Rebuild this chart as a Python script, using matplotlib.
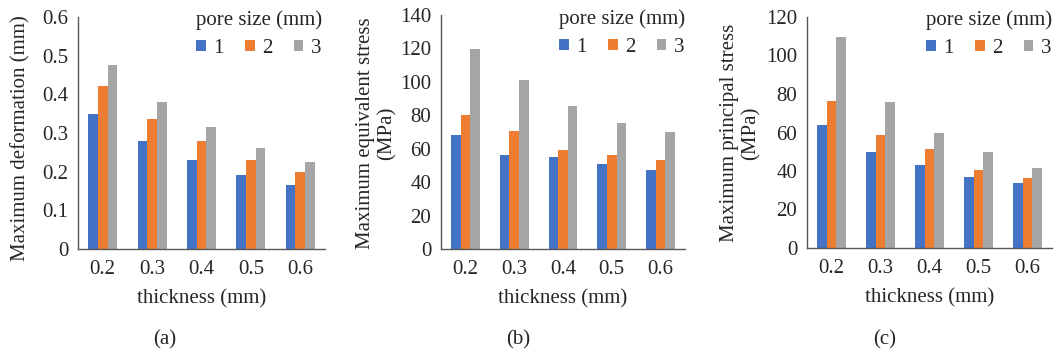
import matplotlib
matplotlib.use("Agg")
import matplotlib.pyplot as plt
import numpy as np

plt.rcParams.update({
    "font.family": ["Liberation Serif", "DejaVu Serif"],
    "font.size": 15,
    "text.color": "#262626",
    "axes.labelcolor": "#262626",
    "xtick.color": "#262626",
    "ytick.color": "#262626",
})

THICKNESS = ["0.2", "0.3", "0.4", "0.5", "0.6"]
PORE_SIZES = ["1", "2", "3"]
COLORS = ["#4472C4", "#ED7D31", "#A5A5A5"]

# (a) maximum deformation (mm)
DEFORM_1 = [0.35, 0.28, 0.23, 0.192, 0.166]
DEFORM_2 = [0.421, 0.336, 0.279, 0.23, 0.199]
DEFORM_3 = [0.475, 0.38, 0.316, 0.261, 0.225]

# (b) maximum equivalent stress (MPa)
EQUIV_1 = [68.3, 56.4, 55.2, 51.0, 47.4]
EQUIV_2 = [80.3, 70.7, 59.4, 56.4, 53.4]
EQUIV_3 = [119.7, 101.2, 85.7, 75.5, 70.1]

# (c) maximum principal stress (MPa)
PRINC_1 = [64.1, 50.0, 43.3, 37.1, 33.9]
PRINC_2 = [76.5, 58.9, 51.6, 40.7, 36.5]
PRINC_3 = [109.8, 76.0, 59.9, 50.0, 41.7]

W, H = 1054, 357
fig = plt.figure(figsize=(W / 100, H / 100), dpi=100)


def px_axes(left, right, top, bottom):
    return fig.add_axes([left / W, (H - bottom) / H, (right - left) / W, (bottom - top) / H])


panels = [
    # box (l, r, t, b), series, ymax, step, ylabel, ylabel centre px (x, y),
    # legend top-right px, panel label, label x
    ((78, 325, 17, 249), (DEFORM_1, DEFORM_2, DEFORM_3), 0.6, 0.1,
     "Maximum deformation (mm)", (21, 138), (327, 5), "(a)", 165),
    ((441, 685, 15, 249), (EQUIV_1, EQUIV_2, EQUIV_3), 140, 20,
     "Maximum equivalent stress\n(MPa)", (376, 133), (690, 4), "(b)", 518),
    ((807, 1052, 17, 248), (PRINC_1, PRINC_2, PRINC_3), 120, 20,
     "Maximum principal stress\n(MPa)", (740, 133), (1057, 5), "(c)", 885),
]

x = np.arange(len(THICKNESS))
width = 0.197

for box, series, ymax, step, ylabel, ylc, legtr, plabel, lx in panels:
    l, r, t, b = box
    ax = px_axes(*box)
    for j, (vals, col) in enumerate(zip(series, COLORS)):
        ax.bar(x + (j - 1) * width, vals, width, color=col, label=PORE_SIZES[j])
    ax.set_xlim(-0.5, len(THICKNESS) - 0.5)
    ax.set_ylim(0, ymax)
    ticks = np.arange(0, ymax + step / 2, step)
    ax.set_yticks(ticks)
    ax.set_yticklabels(["0" if t_ == 0 else (f"{t_:.1f}" if step < 1 else f"{t_:.0f}") for t_ in ticks])
    ax.set_xticks(x)
    ax.set_xticklabels(THICKNESS)
    ax.tick_params(length=0, labelsize=15)
    ax.tick_params(axis="x", pad=8)
    ax.tick_params(axis="y", pad=7)
    for s in ("top", "right"):
        ax.spines[s].set_visible(False)
    for s in ("left", "bottom"):
        ax.spines[s].set_color("#595959")
        ax.spines[s].set_linewidth(1.0)
    ax.set_xlabel("thickness (mm)", fontsize=15, labelpad=7)
    ax.set_ylabel(ylabel, fontsize=15, linespacing=1.15, va="center")
    ax.yaxis.set_label_coords((ylc[0] - l) / (r - l), (b - ylc[1]) / (b - t))
    ax.legend(title="pore size (mm)", ncol=3, loc="upper right",
              bbox_to_anchor=((legtr[0] - l) / (r - l), (b - legtr[1]) / (b - t)),
              frameon=False, fontsize=15, title_fontsize=15,
              handlelength=0.45, handleheight=0.45, columnspacing=1.05,
              handletextpad=0.35, borderpad=0.25, borderaxespad=0, labelspacing=0.45)
    fig.text(lx / W, 1 - 340 / H, plabel, ha="center", va="center", fontsize=15)

fig.savefig("out.png", dpi=100)
